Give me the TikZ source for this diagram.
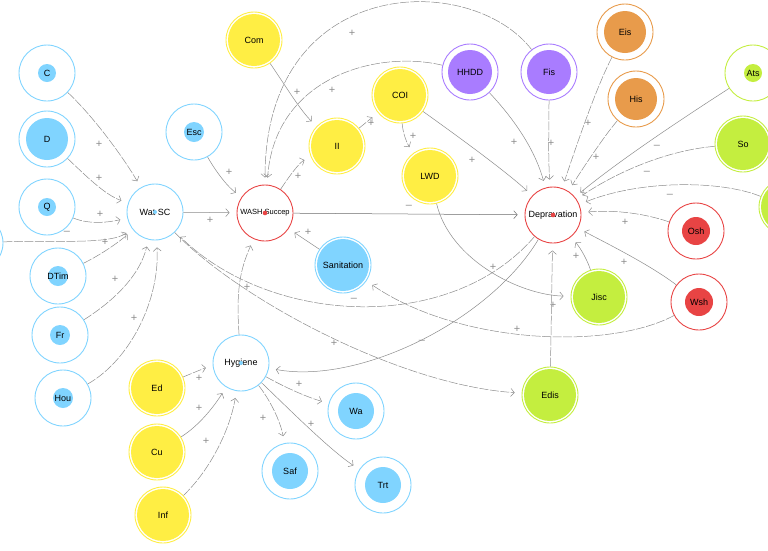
\documentclass[tikz,border=0pt]{standalone}
\usepackage{fontspec}
\setmainfont{Liberation Sans}
\usetikzlibrary{arrows.meta}
\definecolor{cblue}{HTML}{80D4FF}
\definecolor{cyel}{HTML}{FFEE44}
\definecolor{cpur}{HTML}{A97CFF}
\definecolor{cora}{HTML}{E89B4B}
\definecolor{cgrn}{HTML}{C4EE3F}
\definecolor{cred}{HTML}{E84444}
\definecolor{cedge}{HTML}{8C8C8C}
\begin{document}
\begin{tikzpicture}[x=1pt,y=-1pt,
  nd/.style 2 args={circle, minimum size=56pt, inner sep=0pt, draw=#1, line width=0.9pt, fill=white,
    font=\fontsize{9}{10}\selectfont,
    path picture={\fill[#1] (path picture bounding box.center) circle (#2);}},
  wn/.style={circle, minimum size=56pt, inner sep=0pt, draw=#1, line width=0.9pt, fill=white,
    font=\fontsize{9}{10}\selectfont},
  e/.style={draw=cedge, line width=0.5pt, -{Straight Barb[length=3.5pt,width=8pt]}, shorten >=7pt},
  ed/.style={e, dash pattern=on 9pt off 1.5pt},
  lbl/.style={text=cedge, font=\fontsize{11}{11}\selectfont, inner sep=0pt},
]
\useasboundingbox (0,0) rectangle (768,550);
% ---- nodes ----
\node[nd={cblue}{9pt}] (C) at (47,73) {C};
\node[nd={cblue}{21pt}] (D) at (47,139) {D};
\node[nd={cblue}{9pt}] (Q) at (47,207) {Q};
\node[nd={cblue}{9pt}] (L) at (-25,243) {};
\node[nd={cblue}{10pt}] (DTim) at (58,276) {DTim};
\node[nd={cblue}{10pt}] (Fr) at (60,335) {Fr};
\node[nd={cblue}{10pt}] (Hou) at (63,398) {Hou};
\node[wn=cblue] (WatSC) at (155,212) {Wat SC};
\node[nd={cblue}{10pt}] (Esc) at (194,132) {Esc};
\node[nd={cyel}{26pt}] (Com) at (254,40) {Com};
\node[wn=cred, font=\fontsize{7.5}{9}\selectfont] (WASH) at (265,213) {WASH Succep};
\node[nd={cyel}{26pt}] (II) at (337,146) {II};
\node[nd={cyel}{26pt}] (COI) at (400,95) {COI};
\node[nd={cyel}{26pt}] (LWD) at (430,176) {LWD};
\node[nd={cpur}{22pt}] (HHDD) at (470,72) {HHDD};
\node[nd={cpur}{22pt}] (Fis) at (549,72) {Fis};
\node[nd={cora}{21pt}] (Eis) at (625,32) {Eis};
\node[nd={cora}{21pt}] (His) at (636,99) {His};
\node[nd={cgrn}{9pt}] (Ats) at (753,73) {Ats};
\node[nd={cgrn}{26pt}] (So) at (743,144) {So};
\node[nd={cgrn}{26pt}] (R) at (787,207) {};
\node[wn=cred] (Dep) at (553,215) {Depravation};
\node[nd={cred}{14pt}] (Osh) at (696,231) {Osh};
\node[nd={cred}{14pt}] (Wsh) at (699,302) {Wsh};
\node[nd={cgrn}{26pt}] (Jisc) at (599,297) {Jisc};
\node[nd={cgrn}{26pt}] (Edis) at (550,395) {Edis};
\node[nd={cblue}{26pt}] (San) at (343,265) {Sanitation};
\node[wn=cblue] (Hyg) at (241,363) {Hygiene};
\node[nd={cyel}{26pt}] (Ed) at (157,388) {Ed};
\node[nd={cyel}{26pt}] (Cu) at (157,452) {Cu};
\node[nd={cyel}{26pt}] (Inf) at (163,515) {Inf};
\node[nd={cblue}{18pt}] (Wa) at (356,411) {Wa};
\node[nd={cblue}{18pt}] (Saf) at (290,471) {Saf};
\node[nd={cblue}{18pt}] (Trt) at (383,485) {Trt};
% centre marks
\fill[cblue] (WatSC.center) circle (2pt);
\fill[cred] (WASH.center) circle (2.3pt);
\fill[cred] (Dep.center) circle (2.3pt);
\fill[cblue] (Hyg.center) circle (2pt);
% ---- edges ----
\draw[ed] (C) .. controls (95,118) and (125,160) .. (WatSC);
\draw[ed] (D) .. controls (85,175) and (105,195) .. (WatSC);
\draw[ed] (Q) .. controls (90,225) and (110,222) .. (WatSC);
\draw[ed] (L) .. controls (50,240) and (110,245) .. (WatSC);
\draw[ed] (DTim) .. controls (100,255) and (115,245) .. (WatSC);
\draw[ed] (Fr) .. controls (115,300) and (140,275) .. (WatSC);
\draw[ed] (Hou) .. controls (130,360) and (160,300) .. (WatSC);
\draw[e] (WatSC) -- (WASH);
\draw[e] (Esc) .. controls (212,165) and (225,185) .. (WASH);
\draw[e] (Com) .. controls (285,85) and (300,110) .. (II);
\draw[ed] (WASH) .. controls (290,175) and (300,162) .. (II);
\draw[ed] (II) -- (COI);
\draw[ed] (COI) .. controls (403,135) and (408,145) .. (LWD);
\draw[e] (COI) .. controls (470,145) and (510,175) .. (Dep);
\draw[ed] (Fis) .. controls (470,-30) and (265,-25) .. (WASH);
\draw[ed] (HHDD) .. controls (380,50) and (275,75) .. (WASH);
\draw[e] (HHDD) .. controls (515,120) and (535,150) .. (Dep);
\draw[ed] (Fis) .. controls (549,130) and (548,160) .. (Dep);
\draw[ed] (Eis) .. controls (595,90) and (575,150) .. (Dep);
\draw[ed] (His) .. controls (605,135) and (585,165) .. (Dep);
\draw[e] (Ats) .. controls (680,120) and (620,160) .. (Dep);
\draw[ed] (So) .. controls (670,150) and (620,170) .. (Dep);
\draw[ed] (R) .. controls (720,180) and (640,180) .. (Dep);
\draw[ed] (Osh) .. controls (640,212) and (610,210) .. (Dep);
\draw[e] (Wsh) .. controls (650,265) and (610,245) .. (Dep);
\draw[e] (Jisc) .. controls (588,262) and (582,250) .. (Dep);
\draw[ed] (Edis) -- (Dep);
\draw[e, draw=gray!85!black] (WASH) -- (Dep);
\draw[e] (LWD) .. controls (450,260) and (520,295) .. (Jisc);
\draw[ed] (Dep) .. controls (450,335) and (270,325) .. (WatSC);
\draw[ed] (WatSC) .. controls (240,300) and (400,385) .. (Edis);
\draw[e] (Dep) .. controls (490,320) and (360,385) .. (Hyg);
\draw[ed] (Wsh) .. controls (610,350) and (460,345) .. (San);
\draw[e] (San) -- (WASH);
\draw[ed] (Hyg) .. controls (236,290) and (240,270) .. (WASH);
\draw[ed] (Ed) .. controls (195,372) and (205,368) .. (Hyg);
\draw[e] (Cu) .. controls (200,425) and (215,405) .. (Hyg);
\draw[ed] (Inf) .. controls (210,470) and (230,430) .. (Hyg);
\draw[ed] (Hyg) .. controls (290,390) and (310,398) .. (Wa);
\draw[ed] (Hyg) .. controls (270,400) and (280,420) .. (Saf);
\draw[e] (Hyg) .. controls (290,410) and (330,450) .. (Trt);
% ---- polarity labels ----
\node[lbl] (l01) at (99,144) {+};
\node[lbl] (l02) at (99,178) {+};
\node[lbl] (l03) at (100,214) {+};
\node[lbl] (l04) at (67,233) {–};
\node[lbl] (l05) at (105,242) {+};
\node[lbl] (l06) at (115,279) {+};
\node[lbl] (l07) at (134,318) {+};
\node[lbl] (l08) at (210,220) {+};
\node[lbl] (l09) at (229,172) {+};
\node[lbl] (l10) at (297,92) {+};
\node[lbl] (l11) at (298,176) {+};
\node[lbl] (l12) at (371,123) {+};
\node[lbl] (l13) at (413,136) {+};
\node[lbl] (l14) at (472,160) {+};
\node[lbl] (l15) at (352,33) {+};
\node[lbl] (l16) at (332,90) {+};
\node[lbl] (l17) at (514,142) {+};
\node[lbl] (l18) at (551,143) {+};
\node[lbl] (l19) at (588,123) {+};
\node[lbl] (l20) at (596,157) {+};
\node[lbl] (l21) at (657,147) {–};
\node[lbl] (l22) at (647,173) {–};
\node[lbl] (l23) at (670,196) {–};
\node[lbl] (l24) at (625,222) {+};
\node[lbl] (l25) at (624,262) {+};
\node[lbl] (l26) at (576,256) {+};
\node[lbl] (l27) at (553,305) {+};
\node[lbl] (l28) at (409,207) {–};
\node[lbl] (l29) at (493,267) {+};
\node[lbl] (l30) at (354,300) {–};
\node[lbl] (l31) at (334,343) {+};
\node[lbl] (l32) at (422,342) {–};
\node[lbl] (l33) at (517,329) {+};
\node[lbl] (l34) at (308,232) {+};
\node[lbl] (l35) at (247,287) {+};
\node[lbl] (l36) at (199,378) {+};
\node[lbl] (l37) at (199,408) {+};
\node[lbl] (l38) at (206,441) {+};
\node[lbl] (l39) at (299,384) {+};
\node[lbl] (l40) at (263,418) {+};
\node[lbl] (l41) at (311,424) {+};
\end{tikzpicture}
\end{document}
